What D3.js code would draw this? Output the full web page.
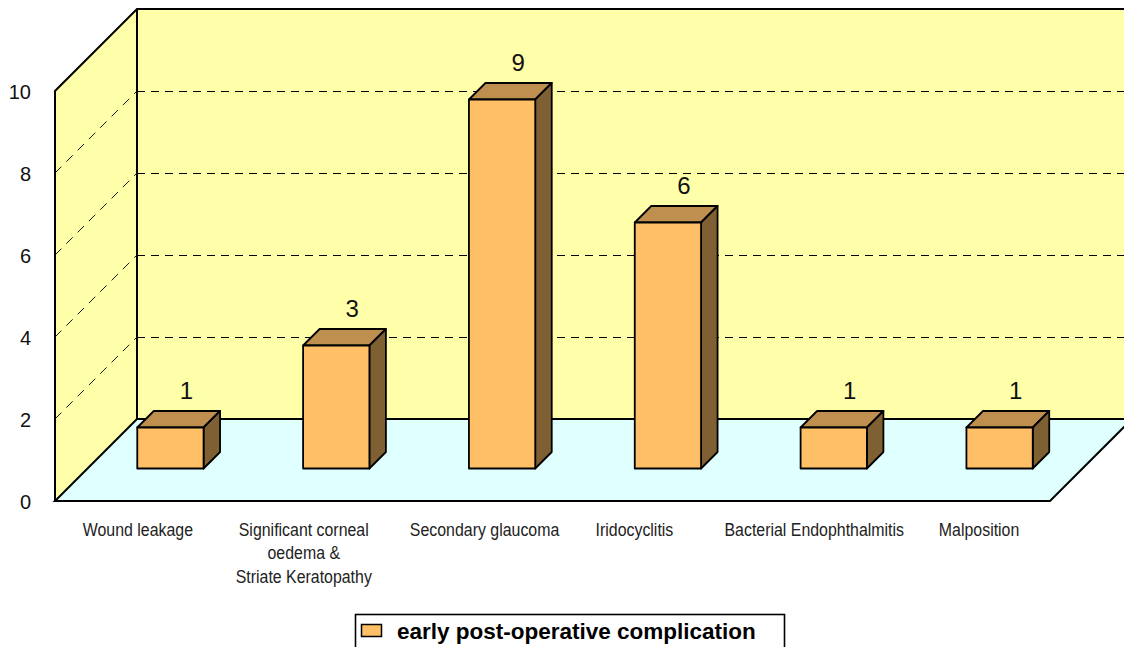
<!DOCTYPE html>
<html><head><meta charset="utf-8">
<script src="https://cdn.jsdelivr.net/npm/d3@7"></script>
<style>html,body{margin:0;padding:0;background:#fff;overflow:hidden}svg{display:block}</style>
</head><body><svg id="c" width="1124" height="647"></svg>
<script>
const categories = [["Wound leakage"],["Significant corneal","oedema &","Striate Keratopathy"],["Secondary glaucoma"],["Iridocyclitis"],["Bacterial Endophthalmitis"],["Malposition"]];
const values = [1,3,9,6,1,1];
const yTicks = [0,2,4,6,8,10];
const gridTicks = [2,4,6,8,10];
const seriesName = "early post-operative complication";

const W=1124,H=647;
const svg=d3.select("#c");
const x=d3.scaleBand().domain(d3.range(categories.length)).range([55,1050]).paddingInner(0).paddingOuter(0);
const y=d3.scaleLinear().domain([0,10]).range([501,91]);
const depth=82, barDepth=16.5, barFront=32.5, barW=66.3;
const ink="#000";
const labelShift=[0,0,15,-1,13,12];

// walls and floor
svg.append("polygon").attr("points",[[55+depth,y(0)-depth],[W+2,y(0)-depth],[W+2,y(10)-depth],[55+depth,y(10)-depth]].join(" ")).attr("fill","#FFFFAA");
svg.append("polygon").attr("points",[[55,y(0)],[55+depth,y(0)-depth],[55+depth,y(10)-depth],[55,y(10)]].join(" ")).attr("fill","#FFFFAA");
svg.append("polygon").attr("points",[[55,y(0)],[1050,y(0)],[1050+depth,y(0)-depth],[55+depth,y(0)-depth]].join(" ")).attr("fill","#E0FFFF");

// grid
gridTicks.forEach(t=>{
  svg.append("line").attr("x1",55).attr("y1",y(t)).attr("x2",55+depth).attr("y2",y(t)-depth).attr("stroke",ink).attr("stroke-width",0.9).attr("stroke-dasharray","9 7");
  svg.append("line").attr("x1",55+depth).attr("y1",y(t)+0.5).attr("x2",W).attr("y2",y(t)+0.5).attr("stroke",ink).attr("stroke-width",1).attr("stroke-dasharray","8 6");
});

// frame
const fr=svg.append("g").attr("fill","none").attr("stroke","#000").attr("stroke-width",2);
fr.append("path").attr("d",`M55,${y(0)}L55,${y(10)}L${55+depth},${y(10)-depth}L${W+2},${y(10)-depth}`);
fr.append("path").attr("d",`M${55+depth},${y(10)-depth}L${55+depth},${y(0)-depth}L${W+2},${y(0)-depth}`);
fr.append("path").attr("d",`M${55+depth},${y(0)-depth}L55,${y(0)}L1050,${y(0)}L${1050+depth},${y(0)-depth}`);

// y labels
svg.append("g").selectAll("text").data(yTicks).join("text")
  .attr("x",31).attr("y",d=>y(d)+8).attr("text-anchor","end")
  .attr("font-family","Liberation Sans").attr("font-size",20).attr("fill","#111").text(d=>d);

// bars
const bars=svg.append("g").selectAll("g").data(values).join("g").attr("stroke","#000").attr("stroke-width",1.8).attr("stroke-linejoin","round");
const fx=(i)=>x(i)+x.bandwidth()/2+barFront-barW/2;
const by=y(0)-barFront;
const h=d=>y(0)-y(d);
bars.append("polygon").attr("fill","#BF8F50").attr("points",(d,i)=>{const l=fx(i),t=by-h(d);return [[l,t],[l+barW,t],[l+barW+barDepth,t-barDepth],[l+barDepth,t-barDepth]].join(" ")});
bars.append("polygon").attr("fill","#7F6033").attr("points",(d,i)=>{const r=fx(i)+barW,t=by-h(d);return [[r,t],[r+barDepth,t-barDepth],[r+barDepth,by-barDepth],[r,by]].join(" ")});
bars.append("rect").attr("fill","#FFBF66").attr("x",(d,i)=>fx(i)).attr("y",d=>by-h(d)).attr("width",barW).attr("height",d=>h(d));

// value labels
svg.append("g").selectAll("text").data(values).join("text")
  .attr("x",(d,i)=>fx(i)+barW/2+barDepth-0.5).attr("y",d=>by-h(d)-29)
  .attr("text-anchor","middle").attr("font-family","Liberation Sans").attr("font-size",24).attr("fill","#111").text(d=>d);

// category labels (horizontally condensed)
const condense=0.86;
const cat=svg.append("g").selectAll("text").data(categories).join("text")
  .attr("text-anchor","middle").attr("font-family","Liberation Sans").attr("font-size",18.5).attr("fill","#222")
  .attr("transform",(d,i)=>`translate(${x(i)+x.bandwidth()/2+labelShift[i]},0) scale(${condense},1)`);
cat.selectAll("tspan").data(d=>d).join("tspan")
  .attr("x",0).attr("y",(l,j)=>536+j*23.5).text(l=>l);

// legend
svg.append("rect").attr("x",355.5).attr("y",614.5).attr("width",429).attr("height",40).attr("fill","#fff").attr("stroke","#000").attr("stroke-width",1.6);
svg.append("rect").attr("x",361.5).attr("y",624.5).attr("width",20).attr("height",12).attr("fill","#FFBF66").attr("stroke","#000").attr("stroke-width",1.5);
svg.append("text").attr("x",397).attr("y",639).attr("font-family","Liberation Sans").attr("font-weight","bold").attr("font-size",22.5).attr("fill","#000").text(seriesName);
</script></body></html>
